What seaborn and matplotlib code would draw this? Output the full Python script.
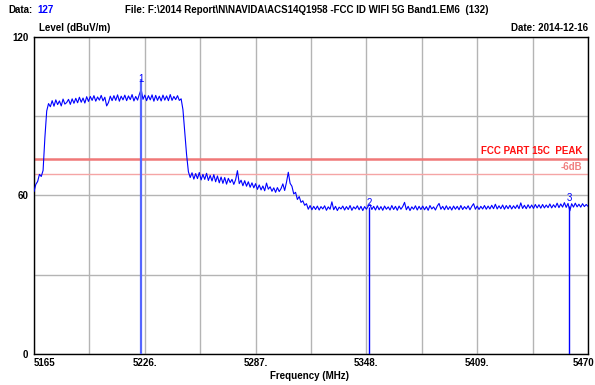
import numpy as np
import pandas as pd
import matplotlib
matplotlib.use("Agg")
import matplotlib.pyplot as plt
import matplotlib.transforms as mtransforms
import seaborn as sns

# ---- data ----
freq_start, freq_stop = 5165, 5470
level = [
    61.5, 64.2, 65.3, 68.0, 67.2, 69.5, 82.0, 92.0, 94.8, 93.6,
    95.9, 93.8, 96.2, 94.4, 95.8, 93.9, 96.5, 94.6, 95.2, 96.4,
    94.5, 96.6, 94.9, 96.8, 95.1, 97.2, 95.3, 96.9, 95.0, 97.4,
    95.6, 97.5, 96.0, 97.8, 95.7, 97.3, 96.1, 97.9, 95.8, 97.2,
    93.9, 95.2, 97.6, 95.9, 97.8, 96.0, 98.1, 95.7, 97.6, 96.2,
    98.0, 95.9, 97.7, 96.3, 98.2, 95.8, 97.5, 96.1, 98.3, 100.2,
    96.4, 98.0, 95.9, 97.8, 96.2, 98.1, 95.7, 97.9, 96.0, 97.6,
    95.8, 98.0, 96.1, 97.7, 95.9, 98.2, 96.0, 97.5, 96.3, 97.8,
    96.0, 96.6, 92.5, 84.0, 75.5, 69.0, 66.8, 68.6, 66.2, 68.3,
    66.4, 68.7, 65.9, 68.0, 66.1, 68.4, 65.7, 67.6, 65.5, 67.9,
    65.2, 67.4, 64.8, 67.0, 64.6, 66.8, 64.3, 66.5, 64.9, 66.1,
    64.2, 66.0, 69.4, 64.5, 65.8, 63.7, 65.6, 63.5, 65.2, 63.1,
    64.8, 62.9, 64.5, 62.3, 64.0, 62.1, 63.6, 61.8, 64.7, 62.4,
    63.3, 61.6, 62.9, 61.2, 63.0, 61.5, 62.6, 64.4, 61.9, 65.0,
    68.8, 64.6, 63.5, 60.6, 61.2, 58.5, 59.6, 57.4, 58.0, 56.3,
    56.9, 54.8, 56.2, 54.6, 55.9, 54.7, 56.0, 54.5, 55.8, 54.9,
    56.1, 54.4, 55.7, 54.8, 57.6, 54.6, 55.9, 54.3, 55.6, 54.9,
    56.0, 54.5, 55.8, 54.7, 56.2, 54.4, 55.7, 54.9, 56.1, 54.6,
    55.9, 54.3, 55.8, 54.8, 56.0, 56.6, 54.7, 55.9, 54.5, 56.1,
    54.6, 55.8, 54.4, 56.0, 54.8, 55.7, 54.5, 56.2, 54.7, 55.9,
    54.4, 56.0, 54.8, 55.8, 57.4, 54.6, 55.9, 54.3, 55.7, 54.8,
    56.1, 54.5, 55.9, 54.7, 56.0, 54.6, 55.8, 54.4, 56.2, 54.9,
    55.7, 54.5, 56.0, 57.0, 54.8, 55.9, 54.6, 56.1, 54.7, 55.8,
    54.5, 56.0, 54.8, 55.9, 54.6, 56.2, 54.7, 55.8, 54.9, 56.1,
    54.6, 55.9, 56.9, 54.8, 56.0, 54.7, 55.9, 54.9, 56.2, 54.8,
    56.0, 54.9, 56.3, 55.0, 56.7, 54.9, 56.1, 55.0, 56.4, 54.8,
    56.2, 55.0, 56.3, 54.9, 56.1, 55.1, 56.4, 55.0, 57.2, 55.1,
    56.3, 55.0, 56.5, 55.2, 56.4, 55.1, 56.6, 55.3, 56.5, 55.2,
    56.6, 55.3, 56.4, 55.4, 56.8, 55.3, 56.5, 55.5, 57.1, 55.4,
    56.8, 55.6, 57.3, 55.5, 57.0, 54.2, 56.9, 55.6, 57.1, 55.7,
    56.7, 55.6, 56.9, 55.8, 56.6, 55.9,
]
freq = np.arange(freq_start, freq_start + len(level))

limit_peak = 74.0
limit_6db = 68.0

marker_ids = ["1", "2", "3"]
marker_freq = [5224.0, 5349.5, 5459.5]
marker_top = [104.0, 55.5, 56.0]
marker_label_y = [104.0, 57.0, 59.0]

xtick_vals = [5165, 5226, 5287, 5348, 5409, 5470]
xtick_labels = ["5165", "5226.", "5287.", "5348.", "5409.", "5470"]
ytick_vals = [0, 60, 120]

df = pd.DataFrame({"Frequency": freq, "Level": level})

# ---- style ----
sns.set_style("white")
plt.rcParams['font.family'] = ['Liberation Sans', 'DejaVu Sans']
plt.rcParams['font.size'] = 7

W, H = 595, 385
fig = plt.figure(figsize=(W / 100, H / 100), dpi=100)
ax = fig.add_axes([34 / W, (H - 354) / H, 554 / W, 317 / H])

# grid
ax.set_xlim(freq_start, freq_stop)
ax.set_ylim(0, 120)
ax.set_xticks(xtick_vals)
ax.set_xticks(np.arange(freq_start, freq_stop + 1, 30.5), minor=True)
ax.set_yticks(ytick_vals)
ax.set_yticks([30, 90], minor=True)
ax.grid(True, which="both", color="#b4b4b4", lw=1.0)
ax.set_axisbelow(True)

# limit lines
ax.axhline(limit_peak, color="#f07878", lw=1.8, zorder=2)
ax.axhline(limit_6db, color="#f5a5a5", lw=1.0, zorder=2)
ax.text(0.99, limit_peak + 1.0, "FCC PART 15C  PEAK", color="#ff1010", fontsize=7,
        fontweight="bold", ha="right", va="bottom",
        transform=ax.get_yaxis_transform())
ax.text(0.99, limit_6db + 1.0, "-6dB", color="#f08080", fontsize=7,
        fontweight="bold", ha="right", va="bottom",
        transform=ax.get_yaxis_transform())

# trace
sns.lineplot(data=df, x="Frequency", y="Level", color="#0000ff", lw=0.8, ax=ax, zorder=3)

# markers
for i, (mid, mf, mt, ml) in enumerate(zip(marker_ids, marker_freq, marker_top, marker_label_y)):
    if i == 0:
        ax.vlines(mf, 0, mt, color="#5566ff", lw=1.6, zorder=4)
    else:
        ax.vlines(mf, 0, mt, color="#0000ff", lw=1.0, zorder=4)
    ax.text(mf, ml, mid, color="#0000ff", fontsize=7, ha="center", va="center", zorder=5)

# axes cosmetics
for s in ax.spines.values():
    s.set_color("black")
    s.set_linewidth(1.0)
ax.tick_params(which="both", length=0, labelcolor="black")
ax.tick_params(axis="x", pad=3)
ax.tick_params(axis="y", pad=4)
ax.set_xticklabels(xtick_labels, fontweight="bold", fontsize=7)
ax.set_yticklabels([str(v) for v in ytick_vals], fontweight="bold", fontsize=7)
xl = ax.get_xticklabels()
xl[0].set_ha("left")
xl[-1].set_ha("right")
xl[-1].set_transform(xl[-1].get_transform() +
                     mtransforms.ScaledTranslation(6 / 100, 0, fig.dpi_scale_trans))
ax.set_xlabel("")
ax.set_ylabel("")


def ftext(x, y, s, **kw):
    fig.text(x / W, 1 - y / H, s, fontsize=7, fontweight="bold", va="center", **kw)


ftext(8, 10, "Data:", color="black")
ftext(37, 10, "127", color="#0000ff")
ftext(125, 10, "File: F:\\2014 Report\\N\\NAVIDA\\ACS14Q1958 -FCC ID WIFI 5G Band1.EM6  (132)",
      color="black")
ftext(39, 28, "Level (dBuV/m)", color="black")
ftext(588, 28, "Date: 2014-12-16", color="black", ha="right")
ftext(310, 376, "Frequency (MHz)", color="black", ha="center")

fig.savefig("out.png", dpi=100)
